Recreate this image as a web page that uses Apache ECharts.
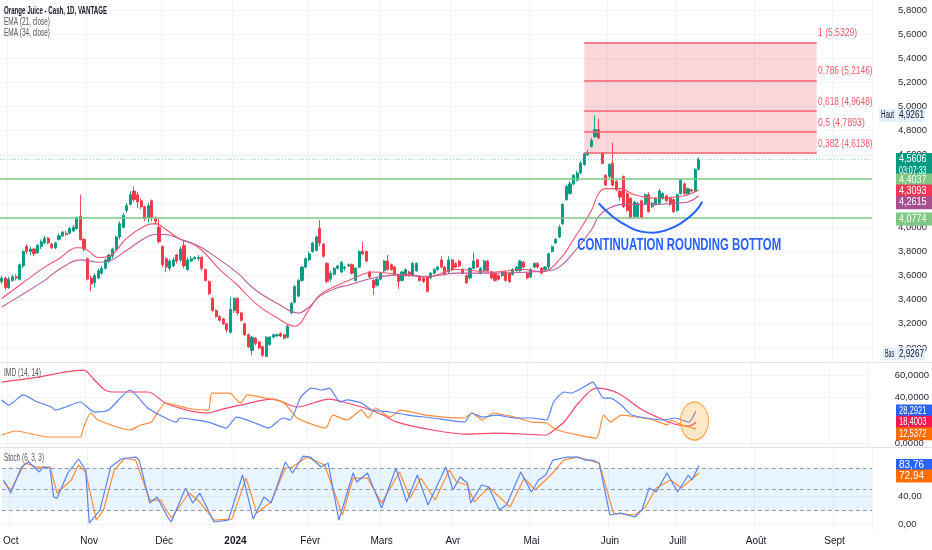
<!DOCTYPE html>
<html><head><meta charset="utf-8">
<script src="https://cdn.jsdelivr.net/npm/echarts@6/dist/echarts.min.js"></script>
<style>html,body{margin:0;padding:0;background:#fff;overflow:hidden}#c{width:932px;height:550px}</style>
</head><body><div id="c"></div>
<script>
// ---------------- DATA (daily bars, 28 Sep 2023 -> 10 Jul 2024) ----------------
const opens = [3.55,3.58,3.50,3.56,3.59,3.57,3.68,3.84,3.80,3.82,3.79,3.84,3.87,3.91,
3.86,3.83,3.90,3.93,3.95,
3.95,3.97,3.99,4.09,3.90,3.74,3.58,3.54,3.58,3.62,
3.66,3.72,3.76,3.82,3.92,4.00,4.14,4.19,4.30,4.27,
4.22,4.17,4.08,4.22,
4.07,4.00,3.84,3.74,3.66,
3.68,3.77,3.73,3.85,3.65,3.72,3.74,3.74,3.75,3.65,
3.55,3.41,3.31,3.26,3.24,3.20,3.13,3.31,3.41,3.29,
3.20,3.11,
2.98,3.08,3.05,3.01,2.93,3.03,3.09,
3.10,3.12,3.11,3.09,3.29,3.38,3.43,3.56,3.67,3.73,
3.80,3.81,3.99,3.86,3.70,3.57,3.61,3.66,3.63,3.66,
3.68,
3.69,3.56,3.67,3.80,3.80,3.63,3.56,3.52,
3.57,3.64,3.72,3.69,3.67,3.60,3.56,3.60,3.63,3.60,
3.64,3.59,3.58,3.59,3.58,3.62,3.65,3.73,3.67,
3.63,
3.73,3.70,3.72,3.65,3.60,3.58,3.66,3.73,3.62,
3.64,3.72,3.63,3.62,3.60,3.60,3.63,3.62,3.61,3.64,
3.64,3.71,3.62,3.59,3.67,3.70,3.66,3.65,
3.67,
3.80,3.87,3.92,4.03,4.23,4.28,4.36,4.39,4.45,4.52,
4.60,4.67,4.75,4.81,4.61,4.43,4.42,4.53,4.38,4.30,
4.42,4.28,4.24,4.09,4.09,4.22,4.20,4.27,
4.17,
4.19,4.20,4.24,4.26,4.24,4.23,4.14,4.28,4.36,4.28,
4.31,4.30,4.48];
const closes = [3.58,3.50,3.57,3.59,3.58,3.69,3.80,3.80,3.82,3.78,3.85,3.88,3.91,3.87,
3.83,3.87,3.93,3.96,3.94,
3.99,4.00,4.08,3.90,3.82,3.57,3.53,3.60,3.64,3.66,
3.73,3.77,3.82,3.92,4.03,4.10,4.18,4.27,4.23,4.21,
4.17,4.07,4.18,4.08,
4.05,3.88,3.69,3.67,3.72,
3.73,3.72,3.82,3.68,3.73,3.74,3.75,3.75,3.66,3.56,
3.45,3.31,3.26,3.23,3.20,3.15,3.32,3.41,3.29,3.23,
3.11,3.01,
3.09,3.04,3.00,2.94,3.09,3.09,3.11,
3.11,3.10,3.08,3.18,3.37,3.51,3.56,3.67,3.74,3.78,
3.87,3.92,3.87,3.76,3.55,3.62,3.66,3.68,3.71,3.67,
3.69,
3.62,3.66,3.80,3.78,3.72,3.59,3.50,3.57,
3.62,3.72,3.65,3.65,3.61,3.55,3.63,3.65,3.60,3.70,
3.70,3.56,3.55,3.47,3.62,3.65,3.67,3.67,3.61,
3.73,
3.65,3.67,3.68,3.62,3.54,3.66,3.72,3.67,3.66,
3.72,3.64,3.58,3.56,3.57,3.63,3.56,3.55,3.65,3.67,
3.72,3.67,3.58,3.65,3.70,3.67,3.62,3.67,
3.78,
3.84,3.90,4.00,4.19,4.34,4.36,4.43,4.45,4.53,4.61,
4.62,4.72,4.81,4.74,4.53,4.35,4.52,4.35,4.31,4.25,
4.17,4.14,4.08,4.21,4.20,4.08,4.27,4.13,
4.20,
4.24,4.30,4.28,4.22,4.19,4.13,4.27,4.39,4.28,4.32,
4.30,4.48,4.5606];
const highs = [3.60,3.59,3.59,3.61,3.61,3.70,3.81,3.86,3.84,3.83,3.86,3.90,3.93,3.92,
3.87,3.88,3.95,3.97,3.97,
4.00,4.02,4.09,4.27,3.91,3.75,3.60,3.62,3.66,3.68,
3.74,3.78,3.83,3.93,4.05,4.12,4.20,4.30,4.34,4.29,
4.24,4.18,4.20,4.23,
4.09,4.07,3.85,3.75,3.74,
3.75,3.78,3.84,3.89,3.75,3.76,3.76,3.77,3.76,3.66,
3.56,3.42,3.32,3.27,3.25,3.21,3.42,3.42,3.42,3.30,
3.21,3.12,
3.10,3.09,3.06,3.02,3.10,3.10,3.12,
3.12,3.13,3.12,3.19,3.38,3.52,3.57,3.68,3.75,3.80,
3.88,3.93,4.06,3.87,3.71,3.64,3.67,3.69,3.72,3.68,
3.70,
3.70,3.67,3.81,3.88,3.81,3.64,3.57,3.58,
3.63,3.73,3.77,3.70,3.68,3.61,3.64,3.66,3.64,3.71,
3.71,3.60,3.59,3.60,3.63,3.66,3.68,3.76,3.68,
3.76,
3.74,3.71,3.73,3.66,3.61,3.67,3.79,3.74,3.67,
3.73,3.73,3.64,3.63,3.61,3.64,3.64,3.63,3.66,3.68,
3.73,3.72,3.63,3.66,3.71,3.71,3.67,3.68,
3.79,
3.85,3.91,4.02,4.20,4.35,4.38,4.44,4.47,4.55,4.62,
4.64,4.74,4.9261,4.90,4.62,4.44,4.53,4.70,4.39,4.31,
4.43,4.29,4.25,4.22,4.21,4.23,4.28,4.29,
4.21,
4.25,4.32,4.29,4.27,4.25,4.24,4.28,4.40,4.37,4.33,
4.32,4.49,4.58];
const lows = [3.53,3.48,3.49,3.55,3.56,3.56,3.66,3.78,3.77,3.76,3.78,3.82,3.86,3.86,
3.82,3.82,3.89,3.92,3.93,
3.94,3.96,3.98,3.89,3.80,3.56,3.47,3.50,3.57,3.61,
3.65,3.70,3.74,3.81,3.90,3.99,4.12,4.18,4.21,4.16,
4.15,4.05,4.04,4.05,
4.02,3.87,3.67,3.63,3.64,
3.67,3.70,3.71,3.66,3.64,3.71,3.73,3.72,3.64,3.55,
3.44,3.30,3.25,3.22,3.19,3.13,3.12,3.29,3.27,3.22,
3.10,3.00,
2.94,3.02,2.99,2.9267,2.93,3.02,3.08,
3.09,3.09,3.07,3.08,3.28,3.37,3.42,3.55,3.66,3.72,
3.79,3.80,3.84,3.75,3.54,3.55,3.60,3.65,3.62,3.64,
3.67,
3.61,3.55,3.66,3.77,3.71,3.58,3.44,3.51,
3.56,3.63,3.64,3.64,3.60,3.49,3.55,3.59,3.59,3.59,
3.63,3.55,3.54,3.46,3.57,3.61,3.64,3.66,3.60,
3.62,
3.64,3.66,3.67,3.61,3.53,3.57,3.65,3.66,3.61,
3.63,3.63,3.57,3.55,3.56,3.59,3.55,3.54,3.60,3.63,
3.63,3.66,3.57,3.58,3.66,3.66,3.61,3.64,
3.65,
3.79,3.86,3.91,4.02,4.22,4.27,4.35,4.38,4.44,4.51,
4.59,4.66,4.74,4.73,4.52,4.34,4.41,4.34,4.30,4.22,
4.16,4.13,4.07,4.08,4.07,4.07,4.19,4.12,
4.16,
4.18,4.19,4.23,4.21,4.18,4.12,4.13,4.27,4.27,4.27,
4.29,4.29,4.47];

// EMA lines: [bar index, value]
const ema21 = [[0,3.41],[5,3.52],[12,3.67],[16,3.74],[21,3.83],[22,3.83],[24,3.81],[27,3.75],[30,3.76],[35,3.91],[40,4.01],[43,4.03],[46,3.98],[50,3.90],[53,3.87],[56,3.81],[61,3.65],[66,3.52],[71,3.37],[77,3.25],[82,3.18],[86,3.32],[89,3.44],[94,3.52],[97,3.56],[104,3.63],[111,3.61],[119,3.59],[127,3.65],[137,3.63],[146,3.65],[151,3.63],[156,3.73],[160,3.90],[165,4.14],[167,4.28],[169,4.32],[173,4.32],[177,4.27],[180,4.25],[184,4.24],[188,4.25],[192,4.27],[195,4.3093]];
const ema34 = [[0,3.34],[5,3.43],[12,3.56],[16,3.65],[22,3.73],[25,3.72],[27,3.71],[30,3.72],[35,3.81],[40,3.91],[43,3.94],[46,3.94],[50,3.90],[53,3.87],[56,3.83],[61,3.73],[66,3.62],[71,3.48],[77,3.37],[83,3.29],[86,3.34],[89,3.43],[94,3.50],[97,3.52],[104,3.58],[113,3.61],[119,3.59],[127,3.62],[137,3.62],[153,3.64],[156,3.67],[160,3.79],[165,3.98],[167,4.09],[170,4.16],[174,4.19],[179,4.19],[183,4.19],[188,4.20],[192,4.21],[195,4.2615]];

// DMI (14,14)
const plusDI = [[0,38.0],[2,33.5],[6,42.4],[10,36.2],[14,31.8],[15,29.1],[18,31.8],[22,36.2],[26,27.4],[30,29.1],[36,46.8],[41,30.9],[46,22.1],[49,18.5],[50,22.1],[58,18.5],[63,13.2],[66,22.9],[74,14.1],[75,13.2],[79,22.1],[81,20.3],[84,40.6],[87,48.5],[90,46.8],[92,48.5],[95,36.2],[97,38.0],[101,35.3],[104,29.1],[109,27.4],[114,24.7],[121,22.1],[130,18.5],[132,26.5],[135,22.9],[139,24.7],[144,22.1],[149,22.1],[153,20.3],[155,36.2],[158,45.0],[160,44.1],[163,48.5],[166,53.8],[169,39.7],[171,39.7],[174,33.5],[177,24.7],[181,22.1],[186,20.3],[189,22.1],[193,18.5],[195,28.2921]];
const minusDI = [[0,7.1],[4,10.6],[13,5.3],[22,5.3],[23,14.1],[25,26.5],[27,20.3],[36,11.5],[39,15.9],[42,18.5],[46,35.3],[52,30.9],[58,29.1],[59,44.1],[64,44.1],[67,35.3],[69,42.4],[74,39.7],[79,36.2],[83,22.1],[91,13.2],[93,24.7],[97,20.3],[101,29.1],[103,22.1],[105,30.9],[109,22.9],[112,29.1],[119,24.7],[130,22.1],[132,26.5],[135,20.3],[138,26.5],[144,22.9],[149,18.5],[153,17.7],[156,11.5],[167,4.4],[169,24.7],[171,18.5],[174,24.7],[180,22.1],[183,20.3],[187,15.9],[188,20.3],[191,15.9],[195,12.5372]];
const adx = [[0,53.8],[9,57.4],[18,62.7],[23,64.4],[26,55.6],[29,46.8],[31,45.0],[41,45.0],[46,35.3],[52,29.1],[58,26.5],[61,29.1],[67,33.5],[76,38.8],[83,31.8],[92,38.8],[97,35.3],[102,30.9],[107,24.7],[111,18.5],[121,11.5],[130,7.9],[139,8.8],[153,7.1],[154,8.8],[158,18.8],[162,35.3],[167,48.5],[173,44.1],[180,29.1],[186,20.3],[190,15.9],[193,15.0],[195,18.4003]];

// Stoch (6,3,3)
const stochK = [[0,62.9],[2,44.3],[5,81.4],[7,88.6],[10,74.3],[11,81.4],[13,80.0],[14,38.6],[15,37.1],[18,72.9],[21,92.9],[23,77.1],[24,1.4],[27,20.0],[30,81.4],[33,92.9],[37,95.7],[38,91.4],[41,30.0],[43,38.6],[46,10.0],[47,2.9],[51,51.4],[53,30.0],[55,44.3],[59,2.9],[63,5.7],[67,70.0],[70,7.1],[73,38.6],[75,30.0],[79,88.6],[81,72.9],[84,97.1],[86,95.7],[89,81.4],[91,87.1],[94,5.7],[98,72.9],[99,60.0],[102,72.9],[106,22.9],[110,80.0],[113,31.4],[116,70.0],[119,27.1],[124,81.4],[126,48.6],[128,67.1],[130,58.6],[131,30.0],[134,55.7],[136,52.9],[139,20.0],[141,27.1],[145,74.3],[148,45.7],[150,62.9],[152,70.0],[154,91.4],[158,95.7],[161,95.7],[163,91.4],[165,91.4],[167,87.1],[170,12.9],[173,15.7],[177,10.0],[179,20.0],[181,51.4],[183,45.7],[186,72.9],[189,45.7],[192,70.0],[193,62.9],[195,83.76]];
const stochD = [[0,60.0],[2,48.6],[6,87.1],[9,81.4],[13,81.4],[15,44.3],[19,62.9],[21,84.3],[23,74.3],[26,5.7],[28,20.0],[31,77.1],[34,94.3],[37,91.4],[41,34.3],[44,34.3],[47,8.6],[52,44.3],[55,31.4],[59,5.7],[64,7.1],[68,65.7],[71,15.7],[75,31.4],[79,80.0],[81,81.4],[85,95.7],[90,84.3],[95,12.9],[98,65.7],[102,65.7],[106,30.0],[111,74.3],[114,37.1],[117,65.7],[121,34.3],[125,77.1],[127,60.0],[130,55.7],[132,31.4],[136,52.9],[142,24.3],[146,65.7],[149,48.6],[154,72.9],[157,91.4],[161,95.7],[167,87.1],[171,15.7],[177,12.9],[180,24.3],[183,51.4],[187,62.9],[190,51.4],[195,72.94]];

// drawings
const fibRatios = ['1','0,786','0,618','0,5','0,382'];
const fibPrices = [5.5329,5.2146,4.9648,4.7893,4.6138];
const fibStartIdx = 163, fibEndIdx = 228;
const supportLevels = [4.4037, 4.0774];
const lastPrice = 4.5606;
const arcPts = [[167,4.199],[171,4.088],[175,4.011],[179,3.964],[182,3.955],[186,3.978],[190,4.033],[194,4.129],[196,4.212]];
const priceTicks = [3.0,3.2,3.4,3.6,3.8,4.0,4.2,4.4,4.6,4.8,5.0,5.2,5.4,5.6,5.8];
const dmiTicks = [0,40,60];
const stochTicks = [0,40];
const stochLevels = [20,50,80];
const monthNames = ['Janv','Févr','Mars','Avr','Mai','Juin','Juill','Août','Sept','Oct','Nov','Déc'];
const holidays = ['2023-11-23','2023-12-25','2024-01-01','2024-01-15','2024-02-19','2024-03-29','2024-05-27','2024-06-19','2024-07-04','2024-09-02'];

// ---------------- AXIS CATEGORIES (trading days) ----------------
const categories = [];
(function(){
  let t = Date.UTC(2023,8,28);
  while (categories.length < 244) {
    const d = new Date(t); const w = d.getUTCDay(); const s = d.toISOString().slice(0,10);
    if (w>0 && w<6 && holidays.indexOf(s) < 0) categories.push(s);
    t += 86400000;
  }
})();
const monthStart = categories.map((c,i)=> i>0 && c.slice(0,7)!==categories[i-1].slice(0,7));

const FONT = '"Liberation Sans Narrow","Liberation Sans",Arial,sans-serif';
const candles = opens.map((o,i)=>[o, closes[i], lows[i], highs[i]]);
const fmt = (v,d)=> v.toFixed(d).replace('.',',');

function xAx(gi, show){
  return {
    type:'category', gridIndex:gi, data:categories, boundaryGap:true,
    axisLine:{show:false}, axisTick:{show:false},
    splitLine:{show:true, interval:(i)=>monthStart[i], lineStyle:{color:'#f0f3fa', width:1}},
    axisLabel: show ? {
      show:true, interval:(i)=>monthStart[i], margin:6, color:'#131722', fontSize:10, fontFamily:FONT,
      formatter:(v)=>{ const m = +v.slice(5,7); return m===1 ? '{b|'+v.slice(0,4)+'}' : monthNames[m-1]; },
      rich:{b:{fontWeight:'bold', fontSize:10, color:'#131722', fontFamily:FONT}}
    } : {show:false}
  };
}
function yAx(gi, min, max, ticks, dec){
  return {
    type:'value', gridIndex:gi, position:'right', min, max,
    axisLine:{show:false}, axisTick:{show:false, customValues:ticks},
    splitLine:{show:true, lineStyle:{color:'#f2f3f5'}},
    axisLabel:{customValues:ticks, formatter:(v)=>fmt(v,dec), color:'#2a2e39', fontSize:9.5, fontFamily:FONT, margin:26}
  };
}

const chart = echarts.init(document.getElementById('c'));
const lineBase = {type:'line', showSymbol:false, symbol:'none', animation:false, silent:true};

chart.setOption({
  animation:false,
  backgroundColor:'#ffffff',
  grid:[
    {left:0, right:60, top:0, height:362},
    {left:0, right:60, top:363, height:84},
    {left:0, right:60, top:448, height:82}
  ],
  xAxis:[xAx(0,false), xAx(1,false), xAx(2,true)],
  yAxis:[yAx(0,2.884,5.883,priceTicks,4), yAx(1,-3.5,70.6,dmiTicks,4), yAx(2,-8.5,108.6,stochTicks,2)],
  series:[
    Object.assign({}, lineBase, {xAxisIndex:0, yAxisIndex:0, data:[], z:1,
      markArea:{silent:true, itemStyle:{color:'rgba(242,54,69,0.2)'}, data:[[{xAxis:categories[fibStartIdx], yAxis:fibPrices[4]},{xAxis:categories[fibEndIdx], yAxis:fibPrices[0]}]]},
      markLine:{silent:true, symbol:'none', label:{show:false},
        data: fibPrices.map(p=>[{coord:[categories[fibStartIdx],p], lineStyle:{color:'#f5606c', width:1.5, type:'solid'}},{coord:[categories[fibEndIdx],p]}])
          .concat(supportLevels.map(p=>({yAxis:p, lineStyle:{color:'#81c784', width:1.5, type:'solid'}})))
          .concat([{yAxis:lastPrice, lineStyle:{color:'#7cc7d2', width:1, type:[1,2], opacity:0.8}}])
      }}),
    {type:'candlestick', xAxisIndex:0, yAxisIndex:0, data:candles, z:3, barWidth:2.6, animation:false,
      itemStyle:{color:'#089981', color0:'#f23645', borderColor:'#089981', borderColor0:'#f23645', borderWidth:0.9}},
    Object.assign({}, lineBase, {xAxisIndex:0, yAxisIndex:0, data:ema21, z:4, smooth:0.4, lineStyle:{color:'#f4536a', width:1.1}}),
    Object.assign({}, lineBase, {xAxisIndex:0, yAxisIndex:0, data:ema34, z:4, smooth:0.4, lineStyle:{color:'#c05a99', width:1.1}}),
    Object.assign({}, lineBase, {xAxisIndex:0, yAxisIndex:0, data:arcPts, z:5, smooth:0.5, lineStyle:{color:'#2962ff', width:2}}),
    Object.assign({}, lineBase, {xAxisIndex:1, yAxisIndex:1, data:adx, smooth:0.3, lineStyle:{color:'#f7476d', width:1.2}}),
    Object.assign({}, lineBase, {xAxisIndex:1, yAxisIndex:1, data:minusDI, smooth:0.2, lineStyle:{color:'#ff8c3a', width:1.2}}),
    Object.assign({}, lineBase, {xAxisIndex:1, yAxisIndex:1, data:plusDI, smooth:0.2, lineStyle:{color:'#5b83f5', width:1.2}}),
    Object.assign({}, lineBase, {xAxisIndex:2, yAxisIndex:2, data:[], z:1,
      markArea:{silent:true, itemStyle:{color:'rgba(33,150,243,0.1)'}, data:[[{yAxis:stochLevels[0]},{yAxis:stochLevels[2]}]]},
      markLine:{silent:true, symbol:'none', label:{show:false}, lineStyle:{color:'#9598a1', type:[4,3], width:1},
        data: stochLevels.map(v=>({yAxis:v}))}}),
    Object.assign({}, lineBase, {xAxisIndex:2, yAxisIndex:2, data:stochD, lineStyle:{color:'#ff8c3a', width:1.2}}),
    Object.assign({}, lineBase, {xAxisIndex:2, yAxisIndex:2, data:stochK, lineStyle:{color:'#5b83f5', width:1.2}})
  ]
});

// ---------------- OVERLAY TEXT & BADGES ----------------
const measureCtx = document.createElement('canvas').getContext('2d');
function scaleFor(text, font, targetW){
  measureCtx.font = font;
  const w = measureCtx.measureText(text).width;
  return targetW ? Math.min(1.2, targetW / w) : 1;
}
function fitText(text, x, y, size, targetW, color, weight, z){
  const font = (weight||'normal') + ' ' + size + 'px ' + FONT;
  const s = scaleFor(text, font, targetW);
  return {type:'text', x, y, scaleX:s, z:z||100,
    style:{text, x:0, y:0, fill:color, font, textAlign:'left', textVerticalAlign:'middle'}};
}
function fitMax(text, x, y, size, maxW, color){
  const font = size + 'px ' + FONT;
  measureCtx.font = font;
  const w = measureCtx.measureText(text).width;
  const s = Math.min(1, maxW / w);
  return {type:'text', x, y, scaleX:s, z:102,
    style:{text, x:0, y:0, fill:color, font, textAlign:'left', textVerticalAlign:'middle'}};
}
const py = (axis, v)=> chart.convertToPixel({yAxisIndex:axis}, v);
const px = (grid, idx, v)=> chart.convertToPixel({gridIndex:grid}, [idx, v]);

function badge(axis, value, lines, bg, fg, dy){
  const y = py(axis, value) + (dy||0);
  const out = [{type:'rect', z:101, shape:{x:896, y:y-6.5, width:36, height:13*lines.length-1*(lines.length-1)}, style:{fill:bg}}];
  lines.forEach((t,k)=> out.push(fitMax(t, 899, y + k*11.5, 10, 27.5, fg)));
  return out;
}
function tagBadge(axis, value, tag, text, dy, tagX){
  const y = py(axis, value) + (dy||0);
  return [
    {type:'rect', z:101, shape:{x:tagX, y:y-6.5, width:896-tagX, height:13}, style:{fill:'#e3effd'}},
    fitMax(tag, tagX+2, y, 10, 896-tagX-4, '#131722'),
    {type:'rect', z:101, shape:{x:897, y:y-6.5, width:28, height:13}, style:{fill:'#e3effd'}},
    fitMax(text, 899, y, 10, 25, '#131722')
  ];
}

let g = [];
// pane separators
g.push({type:'line', z:50, shape:{x1:0, y1:362.5, x2:932, y2:362.5}, style:{stroke:'#e0e3eb', lineWidth:1}});
g.push({type:'line', z:50, shape:{x1:0, y1:447.5, x2:932, y2:447.5}, style:{stroke:'#e0e3eb', lineWidth:1}});
// legends
g.push(fitText('Orange Juice - Cash, 1D, VANTAGE', 4, 11, 10.5, 103, '#131722', 'bold'));
g.push(fitText('EMA (21, close)', 4, 22, 10, 46, '#50535e'));
g.push(fitText('EMA (34, close)', 4, 33, 10, 46, '#50535e'));
g.push(fitText('IMD (14, 14)', 4, 373, 10, 37, '#50535e'));
g.push(fitText('Stoch (6, 3, 3)', 4, 458, 10, 40, '#50535e'));
// fib labels
fibPrices.forEach((p,i)=>{
  const y = py(0, p) - 9;
  const t = fibRatios[i]+' ('+fmt(p,4)+')';
  g.push(fitText(t, 818, y, 10, t.length*3.9, '#f25a66'));
});
// rounding bottom text
(function(){
  const pt = px(0, 161, 3.853);
  g.push(fitText('CONTINUATION ROUNDING BOTTOM', pt[0], pt[1], 17, 204, '#2962ff', 'bold'));
})();
// orange ellipse on DMI
(function(){
  const c = px(1, 195, 19.4);
  g.push({type:'circle', x:c[0]-1.5, y:c[1], scaleX:14/19, z:60, shape:{cx:0, cy:0, r:19},
    style:{fill:'rgba(255,152,0,0.22)', stroke:'#ffa040', lineWidth:1.3}});
})();
// price badges
g = g.concat(tagBadge(0, 4.9261, 'Haut', fmt(4.9261,4), 0, 879));
g = g.concat(tagBadge(0, 2.9267, 'Bas', fmt(2.9267,4), -3, 883));
g = g.concat(badge(0, lastPrice, [fmt(lastPrice,4),'03:07:33'], '#089981', '#ffffff', 0));
g = g.concat(badge(0, supportLevels[0], [fmt(supportLevels[0],4)], '#81c784', '#ffffff', 1.5));
g = g.concat(badge(0, 4.3093, [fmt(4.3093,4)], '#f23656', '#ffffff', 1));
g = g.concat(badge(0, 4.2615, [fmt(4.2615,4)], '#a8508f', '#ffffff', 7));
g = g.concat(badge(0, supportLevels[1], [fmt(supportLevels[1],4)], '#81c784', '#ffffff', 1));
// DMI badges
g = g.concat(badge(1, 28.2921, [fmt(28.2921,4)], '#2962ff', '#ffffff', 0));
g = g.concat(badge(1, 18.4003, [fmt(18.4003,4)], '#f7174f', '#ffffff', 0));
g = g.concat(badge(1, 12.5372, [fmt(12.5372,4)], '#ff6d00', '#ffffff', 5));
// Stoch badges
g = g.concat(badge(2, 83.76, [fmt(83.76,2)], '#2962ff', '#ffffff', 0));
g = g.concat(badge(2, 72.94, [fmt(72.94,2)], '#ff6d00', '#ffffff', 3));

chart.setOption({graphic:{elements:g}});
</script>
</body></html>
